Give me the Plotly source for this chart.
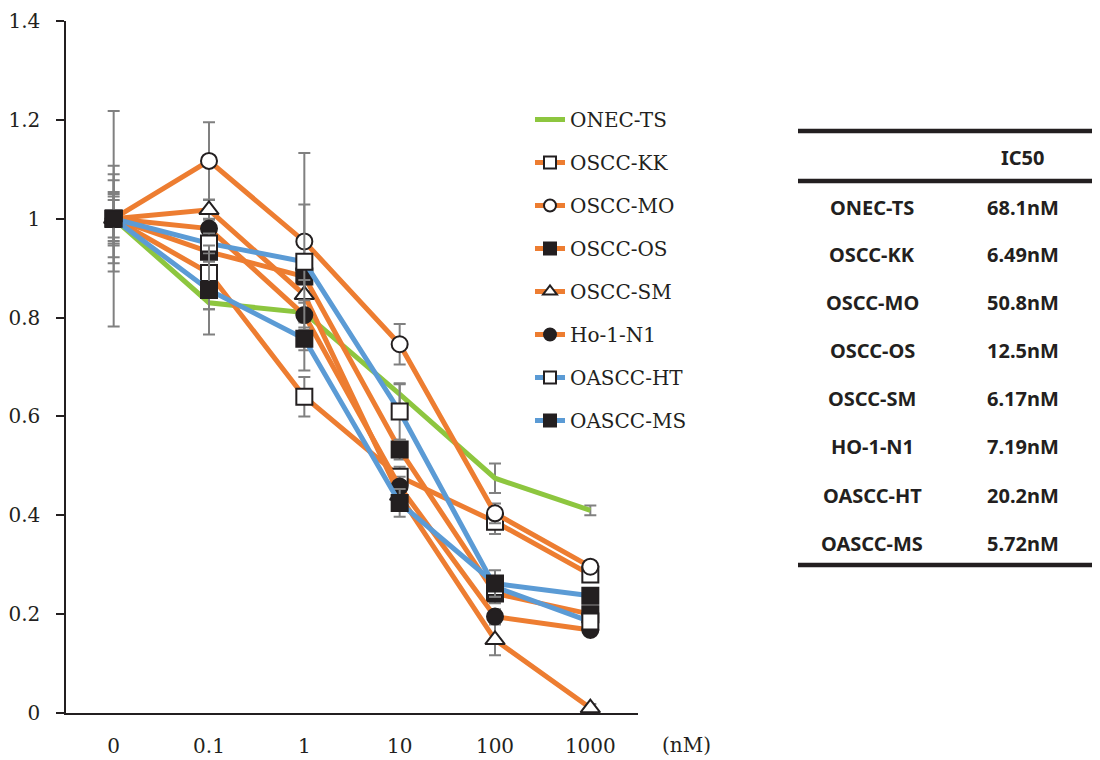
import plotly.graph_objects as go

# ---------------- data ----------------
doses = ["0", "0.1", "1", "10", "100", "1000"]

series_names = ["ONEC-TS", "OSCC-KK", "OSCC-MO", "OSCC-OS", "OSCC-SM",
                "Ho-1-N1", "OASCC-HT", "OASCC-MS"]

onec_ts = [1.0, 0.830, 0.810, 0.645, 0.475, 0.410]
oscc_kk = [1.0, 0.890, 0.640, 0.478, 0.387, 0.280]
oscc_mo = [1.0, 1.117, 0.954, 0.746, 0.404, 0.296]
oscc_os = [1.0, 0.933, 0.883, 0.533, 0.242, 0.200]
oscc_sm = [1.0, 1.018, 0.846, 0.440, 0.148, 0.010]
ho_1_n1 = [1.0, 0.980, 0.805, 0.458, 0.195, 0.168]
oascc_ht = [1.0, 0.950, 0.913, 0.610, 0.255, 0.185]
oascc_ms = [1.0, 0.856, 0.757, 0.425, 0.262, 0.237]

err_onec_ts = [0.050, 0.013, 0.020, 0.020, 0.030, 0.010]
err_oscc_kk = [0.107, 0.073, 0.040, 0.020, 0.025, 0.008]
err_oscc_mo = [0.218, 0.078, 0.075, 0.041, 0.020, 0.008]
err_oscc_os = [0.038, 0.020, 0.030, 0.020, 0.020, 0.008]
err_oscc_sm = [0.090, 0.020, 0.030, 0.020, 0.031, 0.008]
err_ho_1_n1 = [0.078, 0.020, 0.030, 0.020, 0.015, 0.008]
err_oascc_ht = [0.045, 0.020, 0.220, 0.057, 0.020, 0.008]
err_oascc_ms = [0.054, 0.090, 0.023, 0.028, 0.027, 0.008]

table_lines = ["ONEC-TS", "OSCC-KK", "OSCC-MO", "OSCC-OS", "OSCC-SM",
               "HO-1-N1", "OASCC-HT", "OASCC-MS"]
ic50_values = ["68.1nM", "6.49nM", "50.8nM", "12.5nM", "6.17nM",
               "7.19nM", "20.2nM", "5.72nM"]

# ---------------- styling ----------------
GREEN = "#8DC63F"
ORANGE = "#ED7D31"
BLUE = "#5B9BD5"
INK = "#231F20"
GRAY = "#808080"
SERIF = "DejaVu Serif"
FS = 20

values = [onec_ts, oscc_kk, oscc_mo, oscc_os, oscc_sm, ho_1_n1, oascc_ht, oascc_ms]
errors = [err_onec_ts, err_oscc_kk, err_oscc_mo, err_oscc_os, err_oscc_sm,
          err_ho_1_n1, err_oascc_ht, err_oascc_ms]
colors = [GREEN, ORANGE, ORANGE, ORANGE, ORANGE, ORANGE, BLUE, BLUE]
symbols = [None, "square", "circle", "square", "triangle-up", "circle", "square", "square"]
fills = [None, "white", "white", INK, "white", INK, "white", INK]

fig = go.Figure()
for name, ys, es, col, sym, fc in zip(series_names, values, errors, colors, symbols, fills):
    kw = dict(
        x=doses, y=ys, name=name, legendgroup=name,
        line=dict(color=col, width=5),
        error_y=dict(type="data", array=es, visible=True, color=GRAY,
                     thickness=2, width=6),
    )
    if sym is None:
        kw["mode"] = "lines"
    else:
        kw["mode"] = "lines+markers"
        kw["marker"] = dict(symbol=sym, size=16 if sym != "triangle-up" else 17,
                            color=fc, line=dict(color=INK, width=2))
    fig.add_trace(go.Scatter(**kw))

# page body margin offsets the figure by 8 px; work in screen pixels
OFF = 8
W, H = 1100 - OFF, 760 - OFF
SL, SR, ST, SB = 66, 638, 21, 713          # plot area in screen px
L, R, T, B = SL - OFF, W - (SR - OFF), ST - OFF, H - (SB - OFF)
PW = W - L - R
PH = H - T - B


def px_x(p):
    return (p - OFF - L) / PW


def px_y(p):
    return (H - B - (p - OFF)) / PH


fig.update_layout(
    width=W, height=H,
    margin=dict(l=L, r=R, t=T, b=B, pad=0, autoexpand=False),
    paper_bgcolor="white", plot_bgcolor="white",
    font=dict(family=SERIF, size=FS, color=INK),
    showlegend=True,
    legend=dict(
        x=px_x(530), y=px_y(100), xanchor="left", yanchor="top",
        bgcolor="rgba(0,0,0,0)", borderwidth=0,
        itemsizing="constant", traceorder="grouped", tracegroupgap=14,
        font=dict(family=SERIF, size=FS, color=INK),
    ),
    xaxis=dict(
        type="category", range=[-0.5, 5.5], showgrid=False, zeroline=False,
        showline=True, linecolor=INK, linewidth=1.5, ticks="", automargin=False,
        ticklabelstandoff=14, tickfont=dict(family=SERIF, size=FS, color=INK),
    ),
    yaxis=dict(
        range=[0, 1.4], dtick=0.2, showgrid=False, zeroline=False,
        showline=True, linecolor=INK, linewidth=1.5, automargin=False,
        ticks="outside", ticklen=8, tickwidth=1.5, tickcolor=INK,
        ticklabelstandoff=12, tickfont=dict(family=SERIF, size=FS, color=INK),
    ),
)

# unit label
fig.add_annotation(text="(nM)", xref="paper", yref="paper",
                   x=px_x(686), y=px_y(745), xanchor="center", yanchor="middle",
                   showarrow=False, font=dict(family=SERIF, size=FS, color=INK))

# IC50 table
TFONT = "Noto Sans"
for yy in [131, 181, 565]:
    fig.add_shape(type="line", xref="paper", yref="paper",
                  x0=px_x(798), x1=px_x(1100), y0=px_y(yy), y1=px_y(yy),
                  line=dict(color=INK, width=4.5))
fig.add_annotation(text="<b>IC50</b>", xref="paper", yref="paper",
                   x=px_x(1023), y=px_y(157), xanchor="center", yanchor="middle",
                   showarrow=False, font=dict(family=TFONT, size=20, color=INK))
row_y = [207, 254, 302, 350, 398, 446, 495, 543]
for name, val, yy in zip(table_lines, ic50_values, row_y):
    fig.add_annotation(text=f"<b>{name}</b>", xref="paper", yref="paper",
                       x=px_x(872), y=px_y(yy), xanchor="center", yanchor="middle",
                       showarrow=False, font=dict(family=TFONT, size=20, color=INK))
    fig.add_annotation(text=f"<b>{val}</b>", xref="paper", yref="paper",
                       x=px_x(1023), y=px_y(yy), xanchor="center", yanchor="middle",
                       showarrow=False, font=dict(family=TFONT, size=20, color=INK))

fig.write_html("out.html")
